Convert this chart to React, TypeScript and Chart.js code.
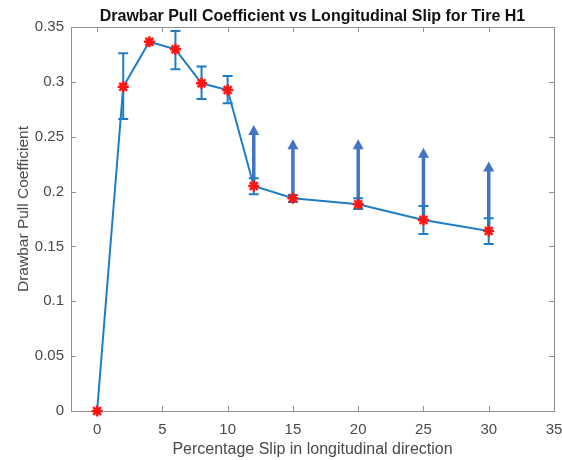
import React, { useEffect, useRef } from "react";
import { Chart, registerables } from "chart.js";

Chart.register(...registerables);

const slip = [0, 2, 4, 6, 8, 10, 12, 15, 20, 25, 30];
const pull = [0, 0.2956, 0.3366, 0.3297, 0.2987, 0.2926, 0.2051, 0.1939, 0.1884, 0.1741, 0.1641];
const errLow = [null, 0.2662, null, 0.3115, 0.2844, 0.2805, 0.1975, 0.1905, 0.1841, 0.1614, 0.1522];
const errHigh = [null, 0.3261, null, 0.3464, 0.3139, 0.3054, 0.2121, 0.1969, 0.1939, 0.1869, 0.1757];
const arrowX = [12, 15, 20, 25, 30];
const arrowBase = [0.2051, 0.1939, 0.1884, 0.1741, 0.1641];
const arrowTip = [0.2607, 0.2477, 0.2477, 0.24, 0.2273];
const xTicks = [0, 5, 10, 15, 20, 25, 30, 35];
const yTicks = [0, 0.05, 0.1, 0.15, 0.2, 0.25, 0.3, 0.35];

const chartTitle = "Drawbar Pull Coefficient vs Longitudinal Slip for Tire H1";
const xTitle = "Percentage Slip in longitudinal direction";
const yTitle = "Drawbar Pull Coefficient";

const FONT = "'Liberation Sans', Arial, Helvetica, sans-serif";
const LINE = "#1f7dc5";
const ARROW = "#4472c4";
const AXIS = "#8f8f8f";
const TEXT = "#4a4a4a";

const overlay = {
  id: "overlay",
  beforeDatasetsDraw(chart: any) {
    const { ctx, chartArea: a, scales } = chart;
    const xs = scales.x;
    const ys = scales.y;
    ctx.save();
    ctx.strokeStyle = AXIS;
    ctx.lineWidth = 1;
    ctx.strokeRect(Math.round(a.left) + 0.5, Math.round(a.top) + 0.5, Math.round(a.right - a.left), Math.round(a.bottom - a.top));
    const tl = 5;
    ctx.beginPath();
    xTicks.forEach((v) => {
      const px = Math.round(xs.getPixelForValue(v)) + 0.5;
      ctx.moveTo(px, a.bottom);
      ctx.lineTo(px, a.bottom - tl);
      ctx.moveTo(px, a.top);
      ctx.lineTo(px, a.top + tl);
    });
    yTicks.forEach((v) => {
      const py = Math.round(ys.getPixelForValue(v)) + 0.5;
      ctx.moveTo(a.left, py);
      ctx.lineTo(a.left + tl, py);
      ctx.moveTo(a.right, py);
      ctx.lineTo(a.right - tl, py);
    });
    ctx.stroke();

    ctx.strokeStyle = ARROW;
    ctx.fillStyle = ARROW;
    arrowX.forEach((xv, i) => {
      const px = xs.getPixelForValue(xv);
      const pb = ys.getPixelForValue(arrowBase[i]);
      const pt = ys.getPixelForValue(arrowTip[i]);
      const headLen = 10;
      const headW = 5.5;
      ctx.lineWidth = 3.5;
      ctx.beginPath();
      ctx.moveTo(px, pb);
      ctx.lineTo(px, pt + headLen - 1);
      ctx.stroke();
      ctx.beginPath();
      ctx.moveTo(px, pt);
      ctx.lineTo(px - headW, pt + headLen);
      ctx.lineTo(px + headW, pt + headLen);
      ctx.closePath();
      ctx.fill();
    });

    ctx.strokeStyle = LINE;
    ctx.lineWidth = 2;
    const cap = 5;
    slip.forEach((xv, i) => {
      const lo = errLow[i];
      const hi = errHigh[i];
      if (lo == null || hi == null) return;
      const px = xs.getPixelForValue(xv);
      const pl = ys.getPixelForValue(lo);
      const ph = ys.getPixelForValue(hi);
      ctx.beginPath();
      ctx.moveTo(px, pl);
      ctx.lineTo(px, ph);
      ctx.moveTo(px - cap, pl);
      ctx.lineTo(px + cap, pl);
      ctx.moveTo(px - cap, ph);
      ctx.lineTo(px + cap, ph);
      ctx.stroke();
    });
    ctx.restore();
  },
  afterDraw(chart: any) {
    const { ctx, chartArea: a } = chart;
    ctx.save();
    ctx.fillStyle = "#111";
    ctx.font = `bold 16px ${FONT}`;
    ctx.textAlign = "center";
    ctx.textBaseline = "alphabetic";
    ctx.fillText(chartTitle, (a.left + a.right) / 2, 21);
    ctx.fillStyle = TEXT;
    ctx.font = `16px ${FONT}`;
    ctx.fillText(xTitle, (a.left + a.right) / 2, 454);
    ctx.font = `15.5px ${FONT}`;
    ctx.translate(27.5, 209);
    ctx.rotate(-Math.PI / 2);
    ctx.fillText(yTitle, 0, 0);
    ctx.restore();
  },
};

export default function App() {
  const ref = useRef<HTMLCanvasElement | null>(null);
  useEffect(() => {
    document.body.style.margin = "0";
    const canvas = ref.current;
    if (!canvas) return;
    const chart = new Chart(canvas, {
      type: "line",
      data: {
        datasets: [
          {
            data: slip.map((x, i) => ({ x, y: pull[i] })),
            borderColor: LINE,
            borderWidth: 2,
            tension: 0,
            pointStyle: "star",
            pointRadius: 5.5,
            pointBorderColor: "#ff1414",
            pointBackgroundColor: "#ff1414",
            pointBorderWidth: 2.5,
            clip: false,
          } as any,
        ],
      },
      options: {
        animation: false,
        responsive: false,
        devicePixelRatio: 1,
        layout: { padding: { top: 27, right: 8, left: 0, bottom: 0 } },
        plugins: { legend: { display: false }, title: { display: false }, tooltip: { enabled: false } },
        scales: {
          x: {
            type: "linear",
            min: -2,
            max: 35,
            afterBuildTicks: (s: any) => {
              s.ticks = xTicks.map((v) => ({ value: v }));
            },
            afterFit: (s: any) => {
              s.height = 49;
              s.paddingLeft = 0;
              s.paddingRight = 0;
            },
            grid: { display: false, drawTicks: false },
            border: { display: false },
            ticks: {
              color: TEXT,
              font: { family: FONT, size: 15 },
              padding: 10,
              maxRotation: 0,
              autoSkip: false,
              callback: (v: any) => String(v),
            },
          },
          y: {
            type: "linear",
            min: 0,
            max: 0.35,
            afterBuildTicks: (s: any) => {
              s.ticks = yTicks.map((v) => ({ value: v }));
            },
            afterFit: (s: any) => {
              s.width = 71;
              s.paddingTop = 0;
              s.paddingBottom = 0;
            },
            grid: { display: false, drawTicks: false },
            border: { display: false },
            ticks: {
              color: TEXT,
              font: { family: FONT, size: 15 },
              padding: 7,
              autoSkip: false,
              callback: (v: any) => String(Math.round(Number(v) * 100) / 100),
            },
          },
        },
      },
      plugins: [overlay],
    });
    return () => chart.destroy();
  }, []);
  return <canvas ref={ref} width={562} height={460} style={{ display: "block" }} />;
}
